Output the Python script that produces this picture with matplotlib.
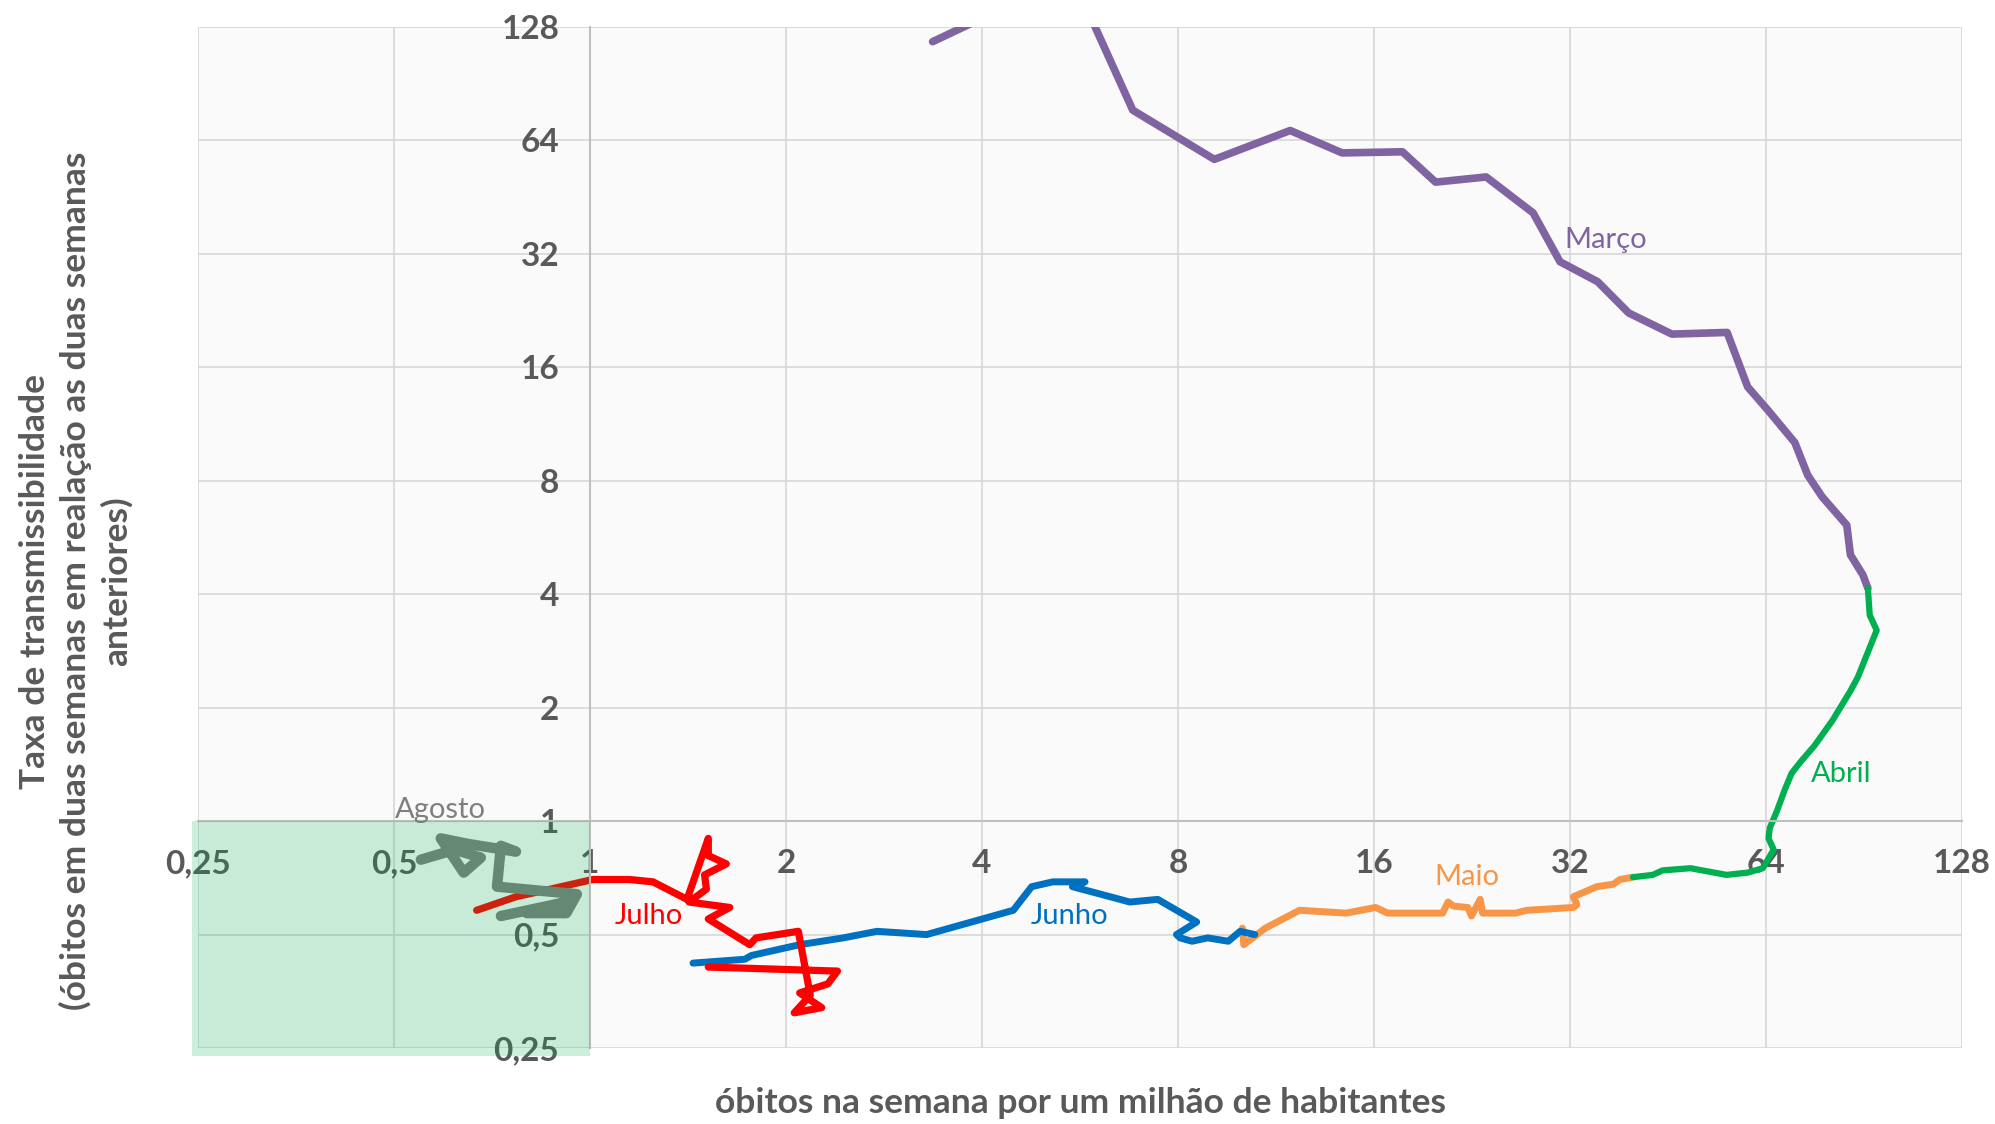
import matplotlib
matplotlib.use("Agg")
import matplotlib.pyplot as plt
from matplotlib.patches import Rectangle

plt.rcParams['font.family'] = ['Lato', 'DejaVu Sans']

# óbitos na semana por milhão (x) e taxa de transmissibilidade (y), por mês
marco_x = [3.36, 5.5, 6.82, 9.1, 11.9, 14.3, 17.7, 19.9, 23.8, 28.1, 30.9, 35.3, 39.4,
           45.9, 55.8, 60.0, 64.5, 70.9, 74.2, 78.1, 85.2, 86.3, 90.2, 91.8]
marco_y = [117, 175, 77, 57, 68, 59.3, 59.7, 49.6, 51.2, 41.1, 30.5, 27.0, 22.3,
           19.6, 19.8, 14.2, 12.3, 10.1, 8.28, 7.25, 6.1, 5.09, 4.50, 4.15]

abril_x = [91.8, 92.4, 94.7, 88.6, 86.1, 81.0, 76.1, 72.2, 70.1, 68.4, 66.5, 64.9,
           64.6, 65.8, 63.3, 60.0, 55.7, 49.0, 44.4, 42.9, 40.0]
abril_y = [4.15, 3.52, 3.21, 2.41, 2.20, 1.85, 1.59, 1.43, 1.34, 1.21, 1.06, 0.96,
           0.90, 0.84, 0.75, 0.73, 0.72, 0.75, 0.74, 0.72, 0.71]

maio_x = [40.0, 38.2, 37.3, 35.2, 32.4, 32.8, 32.4, 27.5, 26.4, 23.5, 23.3, 22.6,
          22.3, 21.2, 20.8, 20.4, 16.8, 16.1, 14.5, 12.3, 10.9, 10.1, 10.05]
maio_y = [0.71, 0.70, 0.68, 0.67, 0.63, 0.60, 0.59, 0.58, 0.57, 0.57, 0.62, 0.56,
          0.59, 0.595, 0.61, 0.57, 0.57, 0.59, 0.57, 0.58, 0.52, 0.47, 0.52]

junho_x = [10.5, 9.97, 9.56, 8.89, 8.41, 8.06, 7.96, 8.55, 7.45, 6.75, 5.51, 5.76,
           5.14, 4.77, 4.47, 3.29, 2.76, 2.45, 2.10, 1.77, 1.73, 1.44]
junho_y = [0.50, 0.51, 0.48, 0.49, 0.48, 0.49, 0.50, 0.54, 0.62, 0.61, 0.67, 0.69,
           0.69, 0.67, 0.58, 0.50, 0.51, 0.49, 0.47, 0.44, 0.43, 0.42]

julho_x = [1.52, 2.40, 2.32, 2.10, 2.27, 2.06, 2.18, 2.09, 1.80, 1.76, 1.52, 1.64,
           1.42, 1.51, 1.50, 1.62, 1.52, 1.52, 1.41, 1.25, 1.15, 1.01, 0.87, 0.77, 0.67]
julho_y = [0.41, 0.40, 0.37, 0.35, 0.32, 0.31, 0.345, 0.51, 0.49, 0.47, 0.55, 0.59,
           0.61, 0.66, 0.72, 0.77, 0.81, 0.90, 0.62, 0.69, 0.70, 0.70, 0.66, 0.63, 0.58]

agosto_x = [0.73, 0.92, 0.80, 0.92, 0.955, 0.72, 0.73, 0.77, 0.65, 0.59, 0.64, 0.68, 0.62, 0.55]
agosto_y = [0.56, 0.61, 0.57, 0.57, 0.64, 0.67, 0.86, 0.83, 0.87, 0.90, 0.73, 0.80, 0.84, 0.79]

ticks = [0.25, 0.5, 1, 2, 4, 8, 16, 32, 64, 128]
tick_labels = ["0,25", "0,5", "1", "2", "4", "8", "16", "32", "64", "128"]

# rótulos dos meses: (texto, x, y, cor)
month_labels = [("Março", 36.3, 34.9, "#8064a2"),
                ("Abril", 83.4, 1.33, "#00b050"),
                ("Maio", 22.2, 0.71, "#f79646"),
                ("Junho", 5.46, 0.56, "#0070c0"),
                ("Julho", 1.23, 0.56, "#ff0000"),
                ("Agosto", 0.59, 1.07, "#7f7f7f")]

fig = plt.figure(figsize=(19.95, 11.24), dpi=100)
rect = [0.0992, 0.0676, 0.8842, 0.9084]
ax = fig.add_axes(rect)
ax.set_facecolor("#fafafa")

ax.set_xscale("log", base=2)
ax.set_yscale("log", base=2)

# eixos cruzando em (1, 1) -- antes dos ticks, pois set_position recria os ticks
for s in ["top", "right"]:
    ax.spines[s].set_visible(False)
ax.spines["left"].set_position(("data", 1))
ax.spines["bottom"].set_position(("data", 1))
ax.spines["left"].set_color("#bfbfbf")
ax.spines["bottom"].set_color("#bfbfbf")
ax.spines["left"].set_linewidth(1.5)
ax.spines["bottom"].set_linewidth(1.5)

ax.set_xlim(0.25, 128)
ax.set_ylim(0.25, 128)

line_kw = dict(solid_capstyle="round", solid_joinstyle="round")
ax.plot(maio_x, maio_y, color="#f79646", lw=5.0, **line_kw)
ax.plot(marco_x, marco_y, color="#8064a2", lw=5.5, **line_kw)
ax.plot(abril_x, abril_y, color="#00b050", lw=4.5, **line_kw)
ax.plot(junho_x, junho_y, color="#0070c0", lw=5.0, **line_kw)
ax.plot(julho_x, julho_y, color="#ff0000", lw=5.2, **line_kw)
ax.plot(agosto_x, agosto_y, color="#7f7f7f", lw=7.5, **line_kw)

for txt, x, y, c in month_labels:
    ax.text(x, y, txt, color=c, fontsize=21, ha="center", va="center")

ax.set_xticks(ticks)
ax.set_xticklabels(tick_labels, fontweight="bold")
ax.set_yticks(ticks)
ax.set_yticklabels(tick_labels, fontweight="bold")
ax.minorticks_off()
ax.tick_params(length=0, labelsize=24, labelcolor="#595959")
ax.tick_params(axis="x", pad=20)
ax.tick_params(axis="y", pad=22)
for lab in ax.get_xticklabels() + ax.get_yticklabels():
    lab.set_fontweight("bold")

ax.grid(True, color="#d9d9d9", lw=1.3)
ax.set_axisbelow(True)

# área verde translúcida por cima de tudo
ax2 = fig.add_axes(rect)
ax2.set_xscale("log", base=2)
ax2.set_yscale("log", base=2)
ax2.set_xlim(0.25, 128)
ax2.set_ylim(0.25, 128)
ax2.axis("off")
ax2.add_patch(Rectangle((0.245, 0.238), 1.0 - 0.245, 1.0 - 0.238,
                        facecolor="#00b050", alpha=0.2, lw=0, clip_on=False))

fig.text(0.5415, 0.019, "óbitos na semana por um milhão de habitantes",
         ha="center", va="center", fontsize=25.5, fontweight="bold", color="#595959")
fig.text(0.038, 0.483,
         "Taxa de transmissibilidade\n(óbitos em duas semanas em realação as duas semanas\nanteriores)",
         ha="center", va="center", rotation=90, fontsize=25.5, fontweight="bold",
         color="#595959", linespacing=1.3, multialignment="center")

fig.savefig("out.png", dpi=100)
